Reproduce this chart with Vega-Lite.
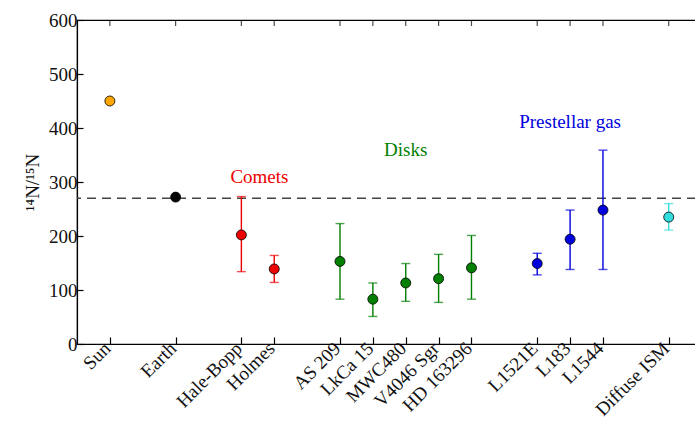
{
  "$schema": "https://vega.github.io/schema/vega-lite/v6.json",
  "autosize": {"type": "none"},
  "padding": {"left": 77, "top": 20, "right": 0, "bottom": 79},
  "width": 619,
  "height": 324,
  "background": "white",
  "config": {
    "view": {"stroke": "black", "strokeWidth": 1.2},
    "axis": {
      "grid": false,
      "domainColor": "black",
      "domainWidth": 1.2,
      "tickColor": "black",
      "tickWidth": 1.2,
      "labelFont": "Times New Roman, Liberation Serif, serif",
      "labelFontSize": 19,
      "labelColor": "#111",
      "labelOverlap": false,
      "labelBound": false,
      "labelFlush": false,
      "titleFont": "Times New Roman, Liberation Serif, serif",
      "titleFontSize": 19,
      "titleFontWeight": "normal",
      "titleColor": "#111"
    }
  },
  "datasets": {
    "pts": [
      {"name": "Sun", "x": 1, "y": 450, "group": "Sun"},
      {"name": "Earth", "x": 3, "y": 272, "group": "Earth"},
      {"name": "Hale-Bopp", "x": 5, "y": 202, "lo": 134, "hi": 273, "group": "Comets"},
      {"name": "Holmes", "x": 6, "y": 139, "lo": 114, "hi": 164, "group": "Comets"},
      {"name": "AS 209", "x": 8, "y": 153, "lo": 83, "hi": 223, "group": "Disks"},
      {"name": "LkCa 15", "x": 9, "y": 83, "lo": 51, "hi": 113, "group": "Disks"},
      {"name": "MWC480", "x": 10, "y": 113, "lo": 79, "hi": 149, "group": "Disks"},
      {"name": "V4046 Sgr", "x": 11, "y": 121, "lo": 77, "hi": 166, "group": "Disks"},
      {"name": "HD 163296", "x": 12, "y": 141, "lo": 83, "hi": 201, "group": "Disks"},
      {"name": "L1521E", "x": 14, "y": 149, "lo": 128, "hi": 168, "group": "Prestellar"},
      {"name": "L183", "x": 15, "y": 194, "lo": 138, "hi": 248, "group": "Prestellar"},
      {"name": "L1544", "x": 16, "y": 248, "lo": 138, "hi": 359, "group": "Prestellar"},
      {"name": "Diffuse ISM", "x": 18, "y": 235, "lo": 211, "hi": 260, "group": "ISM"}
    ],
    "labels": [
      {"text": "Comets", "x": 5.55, "y": 309, "group": "Comets"},
      {"text": "Disks", "x": 10.0, "y": 359, "group": "Disks"},
      {"text": "Prestellar gas", "x": 15.0, "y": 411, "group": "Prestellar"}
    ],
    "ref": [{"ref": 270}]
  },
  "layer": [
    {
      "data": {"name": "ref"},
      "mark": {"type": "rule", "strokeDash": [9, 6], "strokeWidth": 1.5, "color": "#444"},
      "encoding": {
        "y": {"field": "ref", "type": "quantitative", "scale": {"domain": [0, 600], "nice": false}, "title": "¹⁴N/¹⁵N"}
      }
    },
    {
      "data": {"name": "pts"},
      "mark": {"type": "tick", "orient": "vertical", "size": 6, "thickness": 1.2, "color": "black", "yOffset": 3},
      "encoding": {
        "x": {"field": "x", "type": "quantitative", "scale": {"domain": [0, 18.83], "nice": false, "zero": false}},
        "y": {"datum": 600, "type": "quantitative"}
      }
    },
    {
      "data": {"name": "pts"},
      "transform": [{"filter": "isValid(datum.lo)"}],
      "mark": {"type": "rule", "strokeWidth": 1.4},
      "encoding": {
        "x": {"field": "x", "type": "quantitative"},
        "y": {"field": "lo", "type": "quantitative", "title": "¹⁴N/¹⁵N"},
        "y2": {"field": "hi"},
        "color": {"field": "group", "type": "nominal", "legend": null,
          "scale": {"domain": ["Sun", "Earth", "Comets", "Disks", "Prestellar", "ISM"], "range": ["#ffa500", "#000000", "#ee0000", "#007f00", "#0000dd", "#33dddd"]}}
      }
    },
    {
      "data": {"name": "pts"},
      "transform": [{"filter": "isValid(datum.lo)"}],
      "mark": {"type": "tick", "orient": "horizontal", "size": 9, "thickness": 1.4},
      "encoding": {
        "x": {"field": "x", "type": "quantitative"},
        "y": {"field": "lo", "type": "quantitative", "title": "¹⁴N/¹⁵N"},
        "color": {"field": "group", "type": "nominal", "legend": null}
      }
    },
    {
      "data": {"name": "pts"},
      "transform": [{"filter": "isValid(datum.lo)"}],
      "mark": {"type": "tick", "orient": "horizontal", "size": 9, "thickness": 1.4},
      "encoding": {
        "x": {"field": "x", "type": "quantitative"},
        "y": {"field": "hi", "type": "quantitative", "title": "¹⁴N/¹⁵N"},
        "color": {"field": "group", "type": "nominal", "legend": null}
      }
    },
    {
      "data": {"name": "pts"},
      "mark": {"type": "circle", "size": 100, "opacity": 1, "stroke": "black", "strokeWidth": 0.8},
      "encoding": {
        "x": {"field": "x", "type": "quantitative",
          "axis": {"orient": "bottom", "title": null, "values": [1, 3, 5, 6, 8, 9, 10, 11, 12, 14, 15, 16, 18], "tickSize": -7,
            "labelAngle": -45, "labelAlign": "right", "labelBaseline": "middle", "labelPadding": 8, "labelOffset": -3,
            "labelExpr": "['','Sun','','Earth','','Hale-Bopp','Holmes','','AS 209','LkCa 15','MWC480','V4046 Sgr','HD 163296','','L1521E','L183','L1544','','Diffuse ISM'][datum.value]"}},
        "y": {"field": "y", "type": "quantitative", "title": "¹⁴N/¹⁵N",
          "axis": {"values": [0, 100, 200, 300, 400, 500, 600], "tickSize": -6, "labelPadding": 6, "titlePadding": 6}},
        "color": {"field": "group", "type": "nominal", "legend": null}
      }
    },
    {
      "data": {"name": "labels"},
      "mark": {"type": "text", "font": "Times New Roman, Liberation Serif, serif", "fontSize": 19},
      "encoding": {
        "x": {"field": "x", "type": "quantitative"},
        "y": {"field": "y", "type": "quantitative", "title": "¹⁴N/¹⁵N"},
        "text": {"field": "text"},
        "color": {"field": "group", "type": "nominal", "legend": null}
      }
    }
  ]
}
